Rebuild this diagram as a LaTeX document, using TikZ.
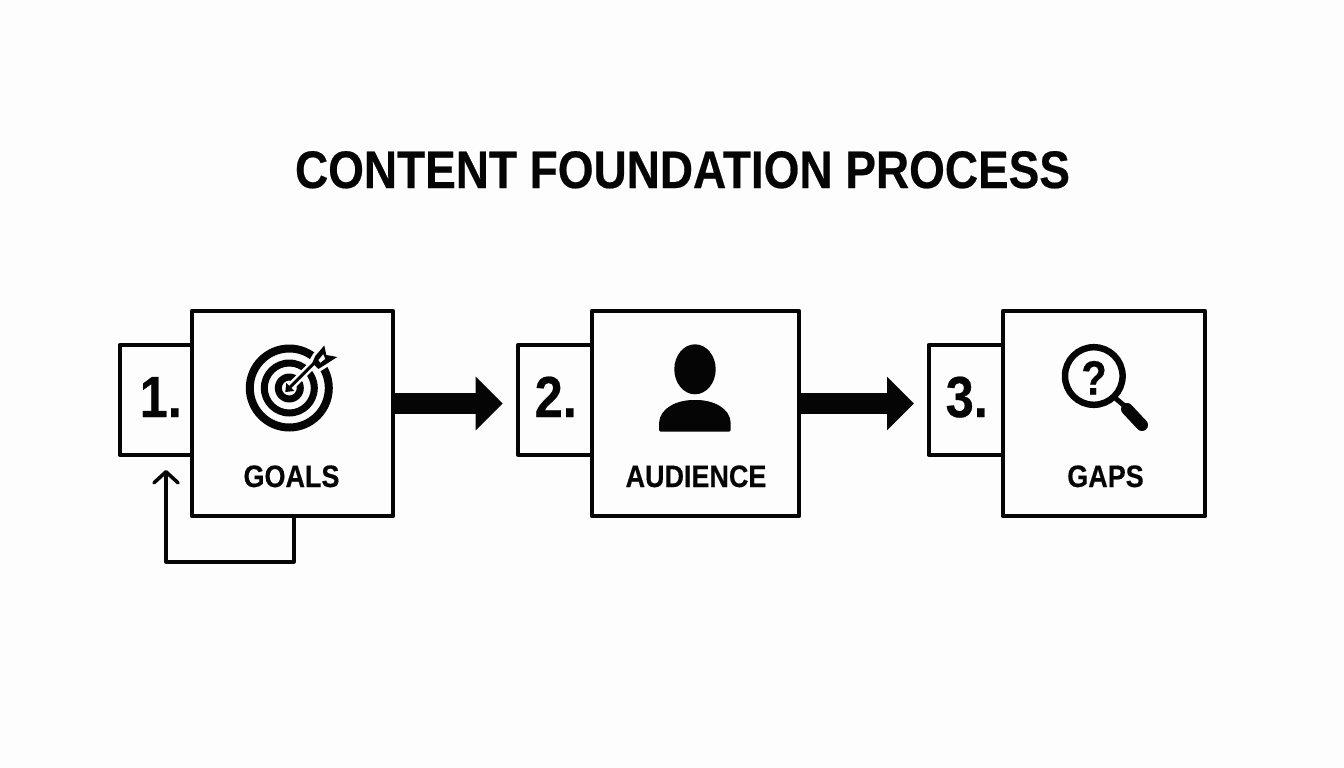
\documentclass[tikz,border=0pt]{standalone}
\usepackage{fontspec}
\setmainfont{Liberation Sans}[BoldFont={Liberation Sans Bold}]
\newfontfamily\labelfont{Liberation Sans Bold}[FakeStretch=0.87,FakeBold=0.4]
\usetikzlibrary{arrows.meta}
\definecolor{ink}{HTML}{050505}
\definecolor{paper}{HTML}{FDFDFD}
\tikzset{
 bigbox/.style={draw=ink,line width=4.2pt,fill=paper,inner sep=0pt,outer sep=0pt,minimum height=205pt,anchor=north west,line join=round},
 numbox/.style={draw=ink,line width=4pt,fill=paper,inner sep=0pt,outer sep=0pt,minimum width=90pt,minimum height=109.5pt,anchor=north west,line join=round},
 numtext/.style={text=ink,inner sep=0pt,anchor=base west,font=\labelfont\fontsize{58}{62}\selectfont},
 captext/.style={text=ink,inner sep=0pt,anchor=base,font=\labelfont\fontsize{31}{34}\selectfont},
 flow/.style={draw=ink,line width=21pt,-{Triangle[length=27pt,width=52pt]}},
 back/.style={draw=ink,line width=3.6pt,line join=round,-{Straight Barb[length=11pt,width=24pt,line width=3.6pt,round]}},
}
\begin{document}
\begin{tikzpicture}[x=1pt,y=-1pt]
\fill[paper] (0,0) rectangle (1344,768);
\useasboundingbox (0,0) rectangle (1344,768);
\node[text=ink,inner sep=0pt,anchor=base,font=\labelfont\fontsize{52.8}{57}\selectfont] (title) at (682.5,188) {CONTENT FOUNDATION PROCESS};
% number boxes
\node[numbox] (n1) at (119.5,345) {};
\node[numbox] (n2) at (518,345) {};
\node[numbox] (n3) at (928.5,345) {};
% main boxes
\node[bigbox,minimum width=201pt] (b1) at (192,311) {};
\node[bigbox,minimum width=207pt] (b2) at (592,311) {};
\node[bigbox,minimum width=202pt] (b3) at (1003,311) {};
\node[numtext] (t1) at (139.5,417) {1.};
\node[numtext] (t2) at (534.5,417) {2.};
\node[numtext] (t3) at (945.5,417) {3.};
\node[captext] (c1) at (291.5,487) {GOALS};
\node[captext] (c2) at (696,487) {AUDIENCE};
\node[captext] (c3) at (1105.5,487) {GAPS};
% flow arrows
\coordinate (a1s) at (b1.east |- 0,403.5);
\coordinate (a1e) at (502.7,403.5);
\coordinate (a2s) at (b2.east |- 0,403.5);
\coordinate (a2e) at (914,403.5);
\draw[flow] (a1s) -- (a1e);
\draw[flow] (a2s) -- (a2e);
% feedback
\coordinate (fbs) at (294,516);
\coordinate (fbe) at (166,470);
\draw[back] (fbs) |- (166,561.7) -- (fbe);
% target icon
\begin{scope}[shift={(289.3,388)}]
\fill[ink,even odd rule] (0,0) circle (43.5) (0,0) circle (35.5);
\fill[ink,even odd rule] (0,0) circle (28.5) (0,0) circle (21.5);
\fill[ink,even odd rule] (0,0) circle (14.5) (0,0) circle (7.5);
\draw[paper,line width=8pt] (2,-2) -- (28,-28);
\draw[paper,line width=6pt,line join=round,fill=paper] (22,-25) -- (26,-32) -- (35,-42.5) -- (37,-33) -- (48,-31) -- (37,-24) -- (29,-19) -- cycle;
\draw[ink,line width=3pt] (0,0) -- (26,-26);
\fill[ink] (-4,4) -- (-3,-5) -- (5,3) -- cycle;
\fill[ink,even odd rule] (23,-25) -- (26,-32) -- (35,-42.5) -- (37,-33) -- (48,-31) -- (37,-24) -- (29,-19) -- cycle
 (29,-28) -- (34,-34) -- (36,-29) -- (31,-25) -- cycle;
\end{scope}
% person icon
\fill[ink] (695,369.3) ellipse [x radius=20.7,y radius=25];
\fill[ink,rounded corners=1.5pt] (659,431.7) -- (659,424) .. controls (660,408) and (677,400) .. (695,400) .. controls (713,400) and (730,408) .. (730.7,424) -- (730.7,431.7) -- cycle;
% magnifier icon
\draw[ink,line width=6.5pt] (1093.8,376) circle (28.8);
\draw[ink,line width=5pt] (1114,397) -- (1127,408);
\draw[ink,line width=12pt,line cap=round] (1127,409) -- (1142,425);
\node[text=ink,inner sep=0pt,anchor=base,font=\labelfont\fontsize{48}{52}\selectfont] (q) at (1094,394.5) {?};
\end{tikzpicture}
\end{document}
